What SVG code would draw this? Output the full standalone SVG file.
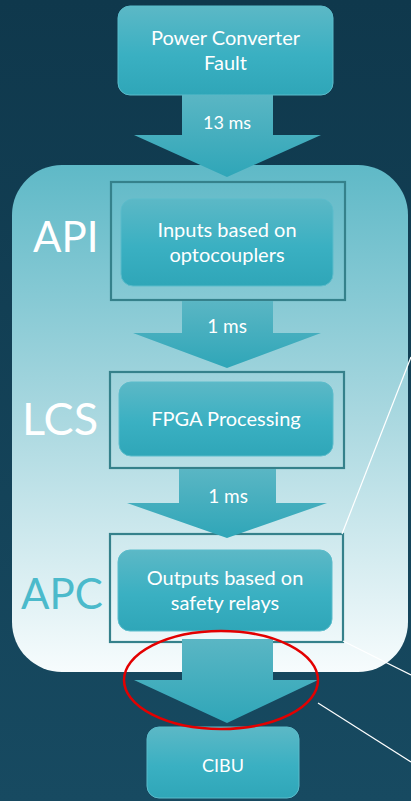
<svg xmlns="http://www.w3.org/2000/svg" width="411" height="801" viewBox="0 0 411 801">
<defs>
<linearGradient id="bg" x1="0" y1="0" x2="0" y2="1"><stop offset="0" stop-color="#0f384c"/><stop offset="1" stop-color="#174a61"/></linearGradient>
<linearGradient id="panel" x1="0" y1="0" x2="0" y2="1"><stop offset="0" stop-color="#5fb9c7"/><stop offset="0.5" stop-color="#aad8e0"/><stop offset="1" stop-color="#f7fcfd"/></linearGradient>
<linearGradient id="node" x1="0" y1="0" x2="0" y2="1"><stop offset="0" stop-color="#5cb8c6"/><stop offset="0.55" stop-color="#3ab0c2"/><stop offset="1" stop-color="#2fa6b8"/></linearGradient>
<linearGradient id="arr" x1="0" y1="0" x2="0" y2="1"><stop offset="0" stop-color="#5ab6c4"/><stop offset="1" stop-color="#2fa6b8"/></linearGradient>
<style>
.node{fill:url(#node);stroke:#5bbccb;stroke-width:1}
.frame{fill:none;stroke:#35818b;stroke-width:2.2}
.arrow{fill:url(#arr)}
.t{font-family:Lato,"Liberation Sans",sans-serif;fill:#ffffff;text-anchor:middle}
.big{font-family:Lato,"Liberation Sans",sans-serif}
.wl{stroke:#ffffff;stroke-width:1.2;fill:none}
</style>
</defs>
<rect x="0" y="0" width="411" height="801" fill="url(#bg)"/>
<rect id="panel" x="12" y="165" width="396" height="507" rx="50" ry="50" fill="url(#panel)"/>
<g id="labels">
<text class="big" x="33" y="252" fill="#ffffff" font-size="42">API</text>
<text class="big" x="22" y="435" fill="#ffffff" font-size="45">LCS</text>
<text class="big" x="21" y="609" fill="#4bbacb" font-size="42">APC</text>
</g>
<g id="fault">
<rect class="node" x="118" y="6" width="215" height="89" rx="12"/>
<text class="t" x="225.5" y="45" font-size="20">Power Converter</text>
<text class="t" x="225.5" y="70" font-size="20">Fault</text>
</g>
<g id="frames">
<rect class="frame" x="111" y="182" width="234" height="118"/>
<rect class="frame" x="110" y="372" width="234" height="96"/>
<rect class="frame" x="110" y="534" width="233" height="108"/>
</g>
<g id="api">
<rect class="node" x="121" y="199" width="212" height="87" rx="12"/>
<text class="t" x="227" y="237" font-size="20">Inputs based on</text>
<text class="t" x="227" y="262" font-size="20">optocouplers</text>
</g>
<g id="lcs">
<rect class="node" x="119" y="382" width="214" height="74" rx="12"/>
<text class="t" x="226" y="426" font-size="20">FPGA Processing</text>
</g>
<g id="apc">
<rect class="node" x="118" y="550" width="214" height="81" rx="12"/>
<text class="t" x="225" y="585" font-size="20">Outputs based on</text>
<text class="t" x="225" y="610" font-size="20">safety relays</text>
</g>
<g id="cibu">
<rect class="node" x="147" y="727" width="152" height="71" rx="12"/>
<text class="t" x="223" y="772" font-size="18">CIBU</text>
</g>
<g id="connectors">
<path class="arrow" d="M182 95 H273 V135 H321 L227 177 L134 135 H182 Z"/>
<text class="t" x="227" y="129" font-size="18">13 ms</text>
<path class="arrow" d="M182 301 H273 V333 H321 L227 368 L133 333 H182 Z"/>
<text class="t" x="227" y="333" font-size="19">1 ms</text>
<path class="arrow" d="M179 469 H276 V503 H327 L227 538 L127 503 H179 Z"/>
<text class="t" x="228" y="503" font-size="19">1 ms</text>
<path class="arrow" d="M182 639 H273 V680 H318 L227 723 L134 680 H182 Z"/>
<line class="wl" x1="342" y1="534" x2="411" y2="357"/>
<line class="wl" x1="343" y1="641" x2="411" y2="675"/>
<line class="wl" x1="318" y1="703" x2="411" y2="762"/>
</g>
<ellipse id="highlight" cx="221" cy="680" rx="97" ry="49" fill="none" stroke="#e30000" stroke-width="2.5"/>
</svg>
